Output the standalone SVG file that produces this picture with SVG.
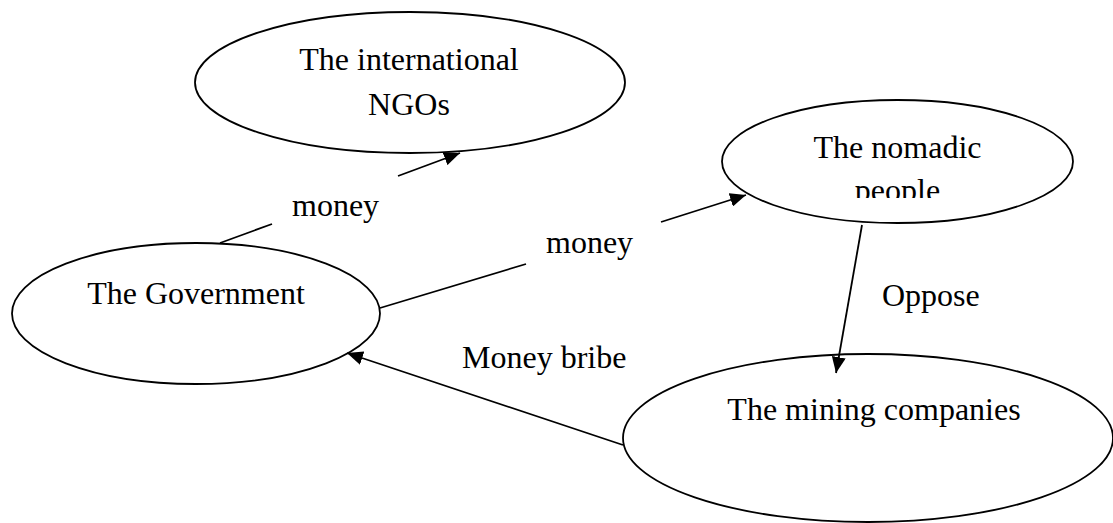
<svg xmlns="http://www.w3.org/2000/svg" width="1113" height="523" viewBox="0 0 1113 523">
<style>
.node{fill:#fff;stroke:#000;stroke-width:1.8}
.edge{fill:none;stroke:#000;stroke-width:1.8}
text{font-family:"Liberation Serif","Times New Roman",serif;font-size:32px;fill:#000}
.c{text-anchor:middle}
</style>
<defs>
<marker id="arr" markerUnits="userSpaceOnUse" markerWidth="17" markerHeight="14" refX="16" refY="7" orient="auto" viewBox="0 0 17 14">
<path d="M0,0 L16,7 L0,14 z" fill="#000"/>
</marker>
<clipPath id="clipPeople"><rect x="800" y="170" width="200" height="28"/></clipPath>
</defs>
<rect width="1113" height="523" fill="#fff"/>
<g id="node-ngos">
<ellipse class="node" cx="410" cy="82.5" rx="215" ry="70.5"/>
<text class="c" x="409" y="70">The international</text>
<text class="c" x="409" y="115">NGOs</text>
</g>
<g id="node-government">
<ellipse class="node" cx="196" cy="313.5" rx="184" ry="70.5"/>
<text class="c" x="196" y="304">The Government</text>
</g>
<g id="node-nomadic">
<ellipse class="node" cx="897.5" cy="161.5" rx="175.5" ry="61.5"/>
<text class="c" x="897.5" y="158">The nomadic</text>
<text class="c" x="897.5" y="201" clip-path="url(#clipPeople)">people</text>
</g>
<g id="node-mining">
<ellipse class="node" cx="868" cy="438" rx="245" ry="84"/>
<text class="c" x="874" y="420">The mining companies</text>
</g>
<g id="connectors">
<line class="edge" x1="220" y1="243" x2="272" y2="224"/>
<line class="edge" x1="398" y1="176" x2="460" y2="153" marker-end="url(#arr)"/>
<text x="292" y="216">money</text>
<line class="edge" x1="380" y1="308" x2="526" y2="264"/>
<line class="edge" x1="661" y1="222" x2="746" y2="195" marker-end="url(#arr)"/>
<text x="546" y="253">money</text>
<line class="edge" x1="862" y1="225" x2="836" y2="373" marker-end="url(#arr)"/>
<text x="882" y="306">Oppose</text>
<line class="edge" x1="623" y1="445" x2="347" y2="353" marker-end="url(#arr)"/>
<text x="462" y="368">Money bribe</text>
</g>
</svg>
